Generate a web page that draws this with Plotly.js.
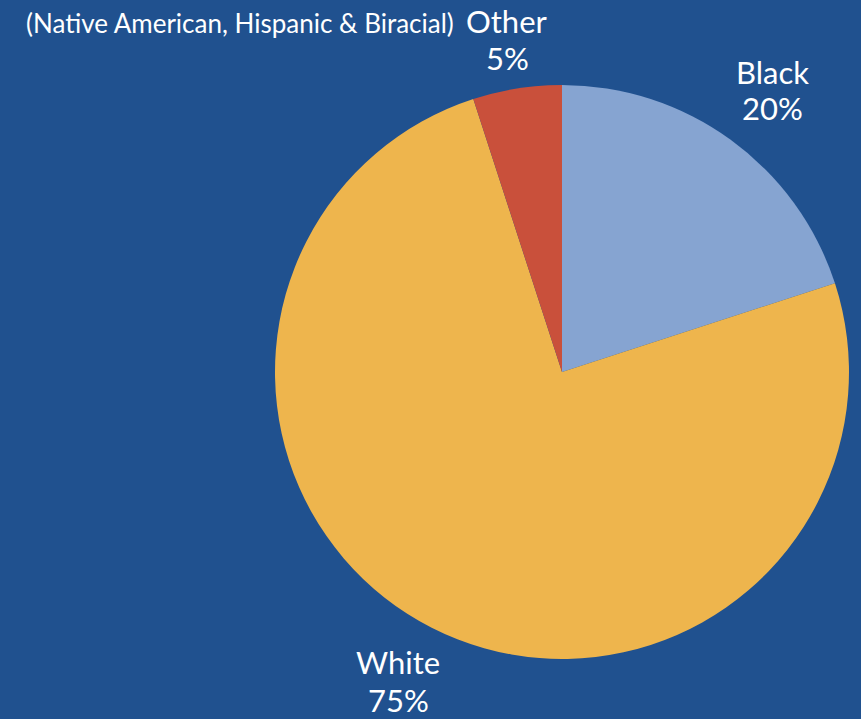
<!DOCTYPE html>
<html>
<head>
<meta charset="utf-8">
<script src="https://cdn.plot.ly/plotly-3.0.1.min.js"></script>
<style>html,body{margin:0;padding:0;background:#20518F;}#chart{width:861px;height:719px;}</style>
</head>
<body>
<div id="chart"></div>
<script>
const categories = ["Black", "White", "Other"];
const values = [20, 75, 5];
const sliceColors = ["#86A4D1", "#EEB54D", "#C9503B"];
const otherNote = "(Native American, Hispanic & Biracial)";

const W = 861, H = 719;
const cx = 562, cy = 372, r = 287;

const trace = {
  type: "pie",
  labels: categories,
  values: values,
  sort: false,
  direction: "clockwise",
  rotation: 0,
  textinfo: "none",
  hoverinfo: "label+percent",
  marker: { colors: sliceColors, line: { width: 0 } },
  showlegend: false,
  domain: {
    x: [(cx - r) / W, (cx + r) / W],
    y: [(H - cy - r) / H, (H - cy + r) / H]
  }
};

const font = { family: "Lato, 'Noto Sans', sans-serif", size: 31, color: "#FFFFFF" };
const noteFont = { family: "Lato, 'Noto Sans', sans-serif", size: 26, color: "#FFFFFF" };
// label anchor positions in pixels (center of name line, center of pct line)
const labelPos = {
  "Black": [772, 72, 108],
  "White": [398, 662, 700],
  "Other": [507, 21, 58]
};
const total = values.reduce((a, b) => a + b, 0);
const annotations = [];
categories.forEach((c, i) => {
  const p = labelPos[c];
  annotations.push({ text: c, x: p[0] / W, y: 1 - p[1] / H, xref: "paper", yref: "paper",
    xanchor: "center", yanchor: "middle", showarrow: false, font: font });
  annotations.push({ text: Math.round(values[i] / total * 100) + "%", x: p[0] / W, y: 1 - p[2] / H,
    xref: "paper", yref: "paper", xanchor: "center", yanchor: "middle", showarrow: false, font: font });
});
annotations.push({ text: otherNote, x: 456 / W, y: 1 - 23 / H, xref: "paper", yref: "paper",
  xanchor: "right", yanchor: "middle", showarrow: false, font: noteFont });

const layout = {
  width: W, height: H,
  margin: { l: 0, r: 0, t: 0, b: 0 },
  paper_bgcolor: "#20518F",
  plot_bgcolor: "#20518F",
  annotations: annotations
};

Plotly.newPlot("chart", [trace], layout, { displayModeBar: false, staticPlot: true });
</script>
</body>
</html>
